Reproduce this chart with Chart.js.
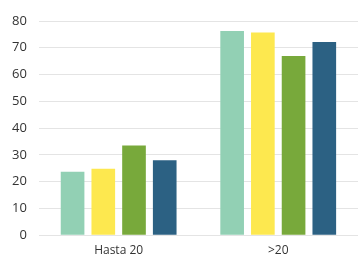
<!DOCTYPE html>
<html>
<head>
<meta charset="utf-8">
<script src="https://cdn.jsdelivr.net/npm/chart.js@4"></script>
<style>
  html, body { margin: 0; padding: 0; background: #fff; }
  #wrap { width: 358px; height: 255px; }
</style>
</head>
<body>
<div id="wrap"><canvas id="barChart" width="358" height="255"></canvas></div>
<script>
const categories = ["Hasta 20", ">20"];
const serie1 = [23.7, 76.3];
const serie2 = [24.8, 75.7];
const serie3 = [33.5, 66.9];
const serie4 = [28.0, 72.2];
const yTicks = [0, 10, 20, 30, 40, 50, 60, 70, 80];

const colors = ["#92d0b4", "#fde84f", "#78a93b", "#2c6183"];

const ctx = document.getElementById("barChart").getContext("2d");
new Chart(ctx, {
  type: "bar",
  data: {
    labels: categories,
    datasets: [serie1, serie2, serie3, serie4].map((d, i) => ({
      label: "Serie " + (i + 1),
      data: d,
      backgroundColor: colors[i],
      borderWidth: 0,
      categoryPercentage: 0.77,
      barPercentage: 0.77,
    })),
  },
  options: {
    responsive: false,
    animation: false,
    layout: { padding: { top: 21, right: 0, left: 0, bottom: -13 } },
    scales: {
      x: {
        grid: { display: false, drawTicks: false },
        border: { display: false },
        ticks: {
          color: "#333",
          font: { family: "Open Sans", size: 12 },
          padding: 8,
        },
      },
      y: {
        min: 0,
        max: 80,
        afterBuildTicks: (axis) => {
          axis.ticks = yTicks.map((v) => ({ value: v }));
        },
        grid: { color: "#e4e4e4", drawTicks: false },
        border: { display: false },
        ticks: {
          color: "#333",
          font: { family: "Open Sans", size: 13 },
          padding: 12,
        },
      },
    },
    plugins: {
      legend: { display: false },
      tooltip: { enabled: false },
    },
  },
});
</script>
</body>
</html>
